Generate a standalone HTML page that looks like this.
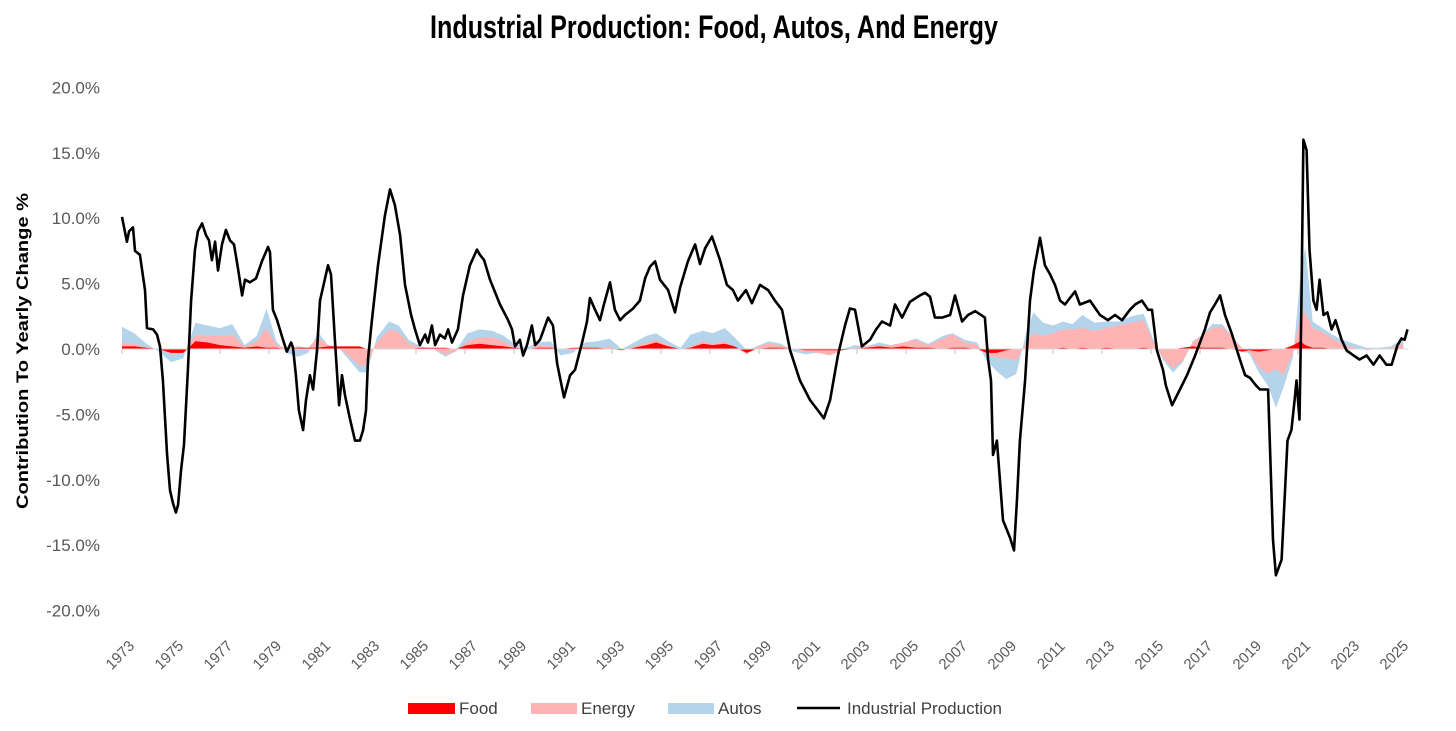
<!DOCTYPE html>
<html><head><meta charset="utf-8"><style>
html,body{margin:0;padding:0;background:#fff;width:1456px;height:731px;overflow:hidden}
svg{display:block}
</style></head><body>
<svg id="chart" width="1456" height="731" xmlns="http://www.w3.org/2000/svg" font-family="'Liberation Sans', sans-serif">
<text x="714" y="38" text-anchor="middle" font-family="'Liberation Sans Narrow','Liberation Sans',sans-serif" font-weight="bold" font-size="32" textLength="568" lengthAdjust="spacingAndGlyphs">Industrial Production: Food, Autos, And Energy</text>
<text transform="translate(28,351) rotate(-90)" text-anchor="middle" font-weight="bold" font-size="17" textLength="316" lengthAdjust="spacingAndGlyphs">Contribution To Yearly Change %</text>
<g id="yaxis"></g>
<g id="xaxis"></g>
<g id="areas"></g>
<g id="lines"></g>
<g font-size="17" fill="#404040">
 <rect x="408" y="703" width="47" height="11" fill="#ff0000"/>
 <text x="459" y="714" fill="#404040">Food</text>
 <rect x="531" y="703" width="46" height="11" fill="#ffb3b3"/>
 <text x="581" y="714" fill="#404040">Energy</text>
 <rect x="668" y="703" width="46" height="11" fill="#b4d4ec"/>
 <text x="718" y="714" fill="#404040">Autos</text>
 <line x1="797" y1="708" x2="840" y2="708" stroke="#000" stroke-width="2.5"/>
 <text x="847" y="714" fill="#404040">Industrial Production</text>
</g>
</svg>
<script>
const yTicks=[20,15,10,5,0,-5,-10,-15,-20];
const xTickYears=[1973,1975,1977,1979,1981,1983,1985,1987,1989,1991,1993,1995,1997,1999,2001,2003,2005,2007,2009,2011,2013,2015,2017,2019,2021,2023,2025];
const ipYears=[1973.00,1973.20,1973.29,1973.45,1973.53,1973.73,1973.94,1974.02,1974.27,1974.43,1974.55,1974.67,1974.84,1974.96,1975.08,1975.20,1975.29,1975.41,1975.53,1975.69,1975.82,1975.98,1976.10,1976.27,1976.43,1976.55,1976.67,1976.80,1976.92,1977.08,1977.24,1977.41,1977.57,1977.73,1977.90,1978.02,1978.22,1978.47,1978.71,1978.96,1979.04,1979.16,1979.33,1979.57,1979.73,1979.90,1979.98,1980.10,1980.22,1980.39,1980.51,1980.67,1980.80,1980.96,1981.08,1981.41,1981.53,1981.69,1981.86,1981.98,1982.10,1982.31,1982.51,1982.71,1982.84,1982.96,1983.04,1983.20,1983.45,1983.73,1983.94,1984.14,1984.35,1984.55,1984.80,1984.96,1985.16,1985.37,1985.49,1985.65,1985.78,1985.98,1986.18,1986.31,1986.47,1986.71,1986.92,1987.20,1987.49,1987.61,1987.78,1988.02,1988.43,1988.76,1988.92,1989.04,1989.24,1989.37,1989.53,1989.73,1989.86,1990.06,1990.39,1990.59,1990.76,1991.04,1991.29,1991.49,1991.78,1991.98,1992.10,1992.31,1992.51,1992.67,1992.92,1993.12,1993.33,1993.53,1993.86,1994.14,1994.35,1994.55,1994.76,1994.96,1995.29,1995.57,1995.78,1996.10,1996.39,1996.59,1996.80,1997.08,1997.41,1997.69,1997.94,1998.14,1998.47,1998.71,1999.04,1999.37,1999.65,1999.94,2000.27,2000.67,2001.08,2001.41,2001.65,2001.90,2002.22,2002.51,2002.71,2002.92,2003.20,2003.53,2003.78,2004.02,2004.35,2004.55,2004.84,2005.16,2005.57,2005.78,2005.98,2006.18,2006.47,2006.80,2007.00,2007.29,2007.53,2007.82,2008.22,2008.35,2008.47,2008.55,2008.71,2008.96,2009.24,2009.41,2009.53,2009.65,2009.86,2010.06,2010.22,2010.47,2010.67,2010.88,2011.08,2011.29,2011.49,2011.69,2011.90,2012.10,2012.51,2012.92,2013.24,2013.53,2013.82,2014.14,2014.35,2014.63,2014.88,2015.04,2015.24,2015.49,2015.61,2015.86,2016.18,2016.47,2016.80,2017.20,2017.41,2017.61,2017.82,2018.02,2018.31,2018.63,2018.84,2019.04,2019.29,2019.45,2019.78,2019.98,2020.10,2020.33,2020.57,2020.73,2020.86,2020.94,2021.06,2021.14,2021.22,2021.35,2021.47,2021.63,2021.76,2021.88,2022.04,2022.20,2022.37,2022.53,2022.78,2022.98,2023.27,2023.51,2023.80,2024.08,2024.33,2024.61,2024.82,2025.06,2025.22,2025.35,2025.47];
const ipValues=[10.1,8.2,9,9.3,7.5,7.2,4.5,1.6,1.5,1.1,0.2,-2.4,-8.1,-10.8,-11.8,-12.5,-11.9,-9.3,-7.3,-1.6,3.7,7.6,9,9.6,8.7,8.3,6.8,8.2,6,8,9.1,8.3,8,6.2,4.1,5.3,5.1,5.4,6.7,7.8,7.4,3,2.2,0.7,-0.2,0.5,0.1,-2,-4.7,-6.2,-3.9,-2,-3.1,-0.1,3.7,6.4,5.7,0.7,-4.3,-2,-3.5,-5.4,-7,-7,-6.2,-4.7,-0.8,2.2,6.4,10.2,12.2,11,8.7,4.9,2.6,1.5,0.3,1.1,0.5,1.8,0.3,1.1,0.8,1.5,0.5,1.5,4.1,6.4,7.6,7.2,6.8,5.3,3.4,2.2,1.5,0.2,0.7,-0.5,0.3,1.8,0.3,0.7,2.4,1.8,-1.1,-3.7,-2,-1.6,0.5,2.1,3.9,3,2.2,3.4,5.1,3,2.2,2.6,3.1,3.7,5.4,6.3,6.7,5.3,4.5,2.8,4.7,6.7,8,6.5,7.7,8.6,6.8,4.9,4.5,3.7,4.5,3.5,4.9,4.5,3.7,3,-0.1,-2.4,-3.9,-4.7,-5.3,-3.9,-0.5,1.8,3.1,3,0.2,0.7,1.5,2.1,1.8,3.4,2.4,3.6,4.1,4.3,4,2.4,2.4,2.6,4.1,2.1,2.6,2.9,2.4,-0.8,-2.4,-8.1,-7,-13.1,-14.4,-15.4,-11.5,-7,-2.4,3.7,6,8.5,6.4,5.7,4.9,3.7,3.4,3.9,4.4,3.4,3.7,2.6,2.2,2.6,2.2,3,3.4,3.7,3,3,-0.1,-1.6,-2.8,-4.3,-3.1,-2,-0.5,1.5,2.8,3.4,4.1,2.6,1.1,-0.8,-2,-2.2,-2.8,-3.1,-3.1,-14.6,-17.3,-16.1,-7,-6.2,-3.9,-2.4,-5.4,3.4,16,15.2,7.6,3.7,3,5.3,2.6,2.8,1.5,2.2,0.7,-0.1,-0.5,-0.8,-0.5,-1.2,-0.5,-1.2,-1.2,0.3,0.8,0.7,1.5,1.6];
const compYears=[1973.0,1973.5,1974.0,1974.5,1975.0,1975.5,1976.0,1976.5,1977.0,1977.5,1978.0,1978.5,1978.9,1979.3,1979.7,1980.2,1980.6,1981.0,1981.4,1981.8,1982.3,1982.7,1983.0,1983.4,1983.9,1984.3,1984.7,1985.2,1985.7,1986.2,1986.6,1987.1,1987.6,1988.1,1988.6,1989.0,1989.5,1990.0,1990.5,1990.9,1991.4,1991.9,1992.4,1992.9,1993.4,1993.9,1994.4,1994.8,1995.3,1995.8,1996.2,1996.7,1997.1,1997.6,1998.0,1998.5,1998.9,1999.4,1999.9,2000.4,2000.9,2001.4,2001.9,2002.4,2002.9,2003.4,2003.9,2004.4,2004.9,2005.4,2005.9,2006.5,2006.9,2007.4,2007.9,2008.3,2008.7,2009.1,2009.5,2009.9,2010.2,2010.6,2011.0,2011.4,2011.8,2012.2,2012.7,2013.2,2013.7,2014.2,2014.7,2015.1,2015.5,2015.9,2016.3,2016.7,2017.1,2017.5,2017.9,2018.3,2018.7,2019.0,2019.4,2019.8,2020.1,2020.4,2020.8,2021.1,2021.3,2021.6,2022.0,2022.4,2022.8,2023.3,2023.8,2024.3,2024.8,2025.3];
const foodValues=[0.2,0.2,0.1,0,-0.3,-0.3,0.6,0.5,0.3,0.2,0.1,0.2,0.1,0.1,0,0.1,0.1,0.1,0.2,0.2,0.2,0.2,0,0,0,0,0,0.1,0.1,0.1,0,0.3,0.4,0.3,0.2,0.1,0,0.1,0.1,0,0.1,0.1,0.1,0,-0.1,0.1,0.3,0.5,0.2,0,0.1,0.4,0.3,0.4,0.2,-0.3,0,0.1,0.1,0,-0.1,-0.1,-0.1,-0.1,0,0.1,0.2,0.1,0.2,0.1,0.1,0,0.1,0.1,0,-0.3,-0.3,-0.1,0,0,0,0,0,0.1,0,0.1,0,0.1,0,0,0.1,0,0,0,0.1,0.2,0.1,0.1,0.1,0,-0.2,-0.1,-0.2,-0.1,0,0,0.3,0.6,0.3,0.1,0.1,0,0,0,0,0,0,0];
const energyValues=[0.3,0.2,0,0,-0.1,0,0.5,0.5,0.7,0.9,0.1,0.4,1.5,0.2,0.1,0.1,0,0.8,0.1,0,-0.8,-1.5,-1.2,0.5,1.5,1.3,0.4,0,-0.1,-0.5,-0.2,0.3,0.5,0.6,0.4,0,-0.1,0.2,0.1,0,-0.1,0.1,0,0.2,0,0.1,0.2,0.2,0.1,0,0.1,0.2,0.1,0.2,-0.1,-0.1,0.2,0.3,0.2,0,-0.1,-0.2,-0.4,0,0.1,0.1,0.1,0.2,0.3,0.6,0.2,0.8,1,0.4,0.3,-0.2,-0.4,-0.6,-0.9,0.5,1.2,1,1.2,1.4,1.5,1.5,1.4,1.5,1.8,2,2.1,0.5,-0.7,-1.5,-1,0.3,1,1.5,1.6,1,0.3,0,-1.2,-1.8,-1.5,-2,-0.6,2,2.5,1.5,1.2,0.8,0.4,0.1,-0.1,0,0.1,0.4];
const autosValues=[1.2,0.8,0.3,-0.2,-0.6,-0.4,0.9,0.8,0.6,0.8,0.1,0.4,1.5,0.3,-0.4,-0.8,-0.4,0.4,0,0,-0.3,-0.5,-0.6,0.4,0.6,0.5,0.3,0.1,0,-0.2,0,0.6,0.6,0.5,0.4,0.3,0.2,0.2,0.4,-0.5,-0.3,0.3,0.5,0.6,0.1,0.3,0.5,0.5,0.3,0.1,0.9,0.8,0.8,1,0.8,0.3,0,0.2,0.1,-0.2,-0.2,0,0.2,0.1,0.2,0,0.2,0,0,0.1,0.1,0.2,0.1,0.2,0.2,-0.4,-1,-1.6,-1,0.7,1.6,1,0.6,0.6,0.4,1,0.6,0.5,0.3,0.5,0.5,0.2,-0.2,-0.3,-0.1,0.1,0,0.3,0.2,0,-0.3,-0.2,-0.4,-1,-3,-1,-0.3,3,5,0.5,0.3,0.3,0.3,0.3,0.2,0.1,0.1,0.4];

const NS='http://www.w3.org/2000/svg';
const X0=122, PXY=24.5, Y0=349, PXV=13.08;
function xs(yr){return X0+(yr-1973)*PXY;}
function ys(v){return Y0-v*PXV;}
function mk(tag,attrs,parent){const e=document.createElementNS(NS,tag);for(const k in attrs)e.setAttribute(k,attrs[k]);parent.appendChild(e);return e;}

const yax=document.getElementById('yaxis');
yTicks.forEach(t=>{
 const tx=mk('text',{x:100,y:ys(t)+6,'text-anchor':'end','font-size':17,fill:'#595959'},yax);
 
 
 tx.textContent=t.toFixed(1)+'%';
});
const xax=document.getElementById('xaxis');
xTickYears.forEach(yr=>{
 const x=xs(yr);
 const tk=mk('line',{x1:x,y1:Y0,x2:x,y2:Y0+5,stroke:'#bfbfbf','stroke-width':1},xax);
 
 
 const tx=mk('text',{x:x-2,y:660,'text-anchor':'middle','font-size':15,fill:'#595959',transform:'rotate(-45 '+(x-2)+' 655)'},xax);
 
 
 tx.textContent=yr;
});

const areas=document.getElementById('areas');
function areaPath(vals){
 let d='M'+xs(compYears[0])+' '+Y0;
 compYears.forEach((yr,i)=>{d+=' L'+xs(yr).toFixed(1)+' '+ys(vals[i]).toFixed(1);});
 d+=' L'+xs(compYears[compYears.length-1])+' '+Y0+' Z';
 return d;
}
const cum2=foodValues.map((f,i)=>f+energyValues[i]);
const cum3=cum2.map((c,i)=>c+autosValues[i]);
const aA=mk('path',{d:areaPath(cum3),fill:'#b4d4ec'},areas);


const aE=mk('path',{d:areaPath(cum2),fill:'#ffb3b3'},areas);


const aF=mk('path',{d:areaPath(foodValues),fill:'#ff0000'},areas);


const zl=mk('line',{x1:X0,y1:Y0,x2:xs(2025.5),y2:Y0,stroke:'#d9d9d9','stroke-width':1},areas);



const lines=document.getElementById('lines');
let d='';
ipYears.forEach((yr,i)=>{d+=(i?' L':'M')+xs(yr).toFixed(1)+' '+ys(ipValues[i]).toFixed(1);});
const ip=mk('path',{d:d,fill:'none',stroke:'#000','stroke-width':2.6,'stroke-linejoin':'round'},lines);


</script>
</body></html>
